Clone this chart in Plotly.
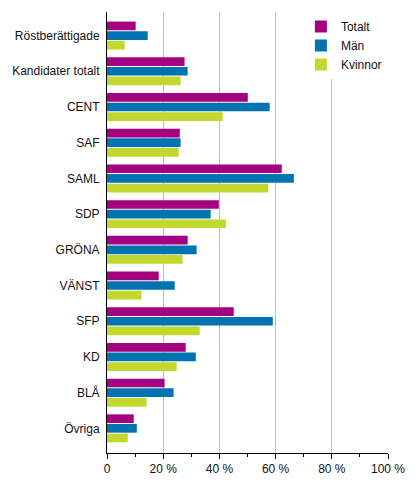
# %% vote share / candidates by party and gender, horizontal grouped bars
import plotly.graph_objects as go

categories = [
    "Röstberättigade", "Kandidater totalt", "CENT", "SAF", "SAML", "SDP",
    "GRÖNA", "VÄNST", "SFP", "KD", "BLÅ", "Övriga",
]
totalt = [10.2, 27.6, 50.1, 25.9, 62.2, 39.8, 28.7, 18.4, 45.1, 28.0, 20.5, 9.5]
man = [14.5, 28.7, 57.9, 26.2, 66.5, 36.9, 31.9, 24.1, 59.0, 31.6, 23.7, 10.6]
kvinnor = [6.3, 26.2, 41.2, 25.5, 57.4, 42.3, 26.9, 12.3, 33.0, 24.8, 14.1, 7.4]

tick_vals = [0, 20, 40, 60, 80, 100]
tick_text = ["0", "20 %", "40 %", "60 %", "80 %", "100 %"]

series = [
    ("Totalt", totalt, "#a5007f"),
    ("Män", man, "#0073b0"),
    ("Kvinnor", kvinnor, "#c3d82e"),
]

fig = go.Figure()
for name, vals, color in series:
    fig.add_trace(
        go.Bar(
            name=name,
            x=vals,
            y=categories,
            orientation="h",
            marker=dict(color=color, line=dict(width=0)),
            hoverinfo="x+name",
        )
    )

# page body adds an 8px margin, so the figure is a bit smaller than the window
fig.update_layout(
    width=408,
    height=483,
    margin=dict(l=99, r=28, t=4, b=38),
    barmode="group",
    bargap=0.19,
    bargroupgap=0.1,
    plot_bgcolor="white",
    paper_bgcolor="white",
    font=dict(family="Liberation Sans, Arial, sans-serif", size=12, color="#111"),
    legend=dict(
        x=0.69, y=1.0, xanchor="left", yanchor="top",
        bgcolor="white", font=dict(size=12), itemwidth=30,
        tracegroupgap=0,
    ),
)
fig.update_xaxes(
    range=[0, 100],
    tickvals=tick_vals,
    ticktext=tick_text,
    automargin=False,
    showgrid=True,
    gridcolor="#bdbdbd",
    gridwidth=1,
    zeroline=False,
    showline=True,
    linecolor="black",
    linewidth=1,
    ticks="outside",
    ticklen=5,
    tickcolor="black",
    minor=dict(dtick=10, ticks="outside", ticklen=3, tickcolor="black", showgrid=False),
)
# categories sit a little inside the axis ends, top first
fig.update_yaxes(
    range=[len(categories) - 0.31, -0.66],
    automargin=False,
    showline=True,
    linecolor="black",
    linewidth=1,
    ticks="",
    ticklabelstandoff=4,
)

fig.write_html("out.html")
